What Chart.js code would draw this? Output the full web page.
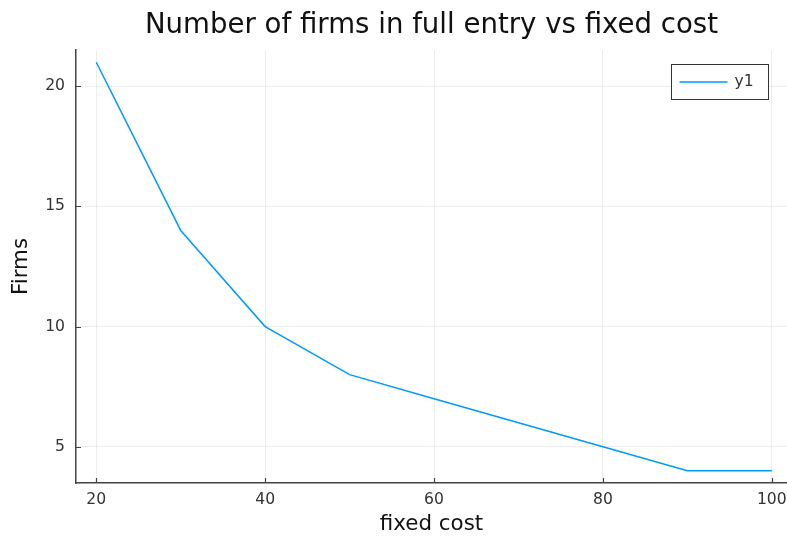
<!DOCTYPE html>
<html lang="en">
  <head>
    <meta charset="utf-8">
    <title>Number of firms in full entry vs fixed cost</title>
    <script src="https://cdn.jsdelivr.net/npm/chart.js"></script>
    <style>
      html, body { margin: 0; padding: 0; background: #fff; }
      #wrap { width: 787px; height: 537px; }
    </style>
  </head>
  <body>
    <div id="wrap"><canvas id="myChart" width="787" height="537"></canvas></div>
    <script>
      // data
      const fixedCost = [20, 30, 40, 50, 60, 70, 80, 90, 100];
      const firms = [21, 14, 10, 8, 7, 6, 5, 4, 4];
      const xTicks = [20, 40, 60, 80, 100];
      const yTicks = [5, 10, 15, 20];
      const chartTitle = 'Number of firms in full entry vs fixed cost';

      const axisColor = '#444';
      const textColor = '#333';

      // Plots.jl style: title centred over the plot area, ticks pointing in, legend box top right
      const plotsStyle = {
        id: 'plotsStyle',
        afterDraw(chart) {
          const ctx = chart.ctx;
          const area = chart.chartArea;
          const xs = chart.scales.x, ys = chart.scales.y;
          ctx.save();

          // title
          ctx.fillStyle = '#111';
          ctx.font = '27.6px "DejaVu Sans"';
          ctx.textAlign = 'center';
          ctx.textBaseline = 'alphabetic';
          ctx.fillText(chartTitle, (area.left + area.right) / 2, 33);

          // inward ticks
          ctx.strokeStyle = axisColor;
          ctx.lineWidth = 1.2;
          ctx.beginPath();
          xTicks.forEach(v => {
            const px = Math.round(xs.getPixelForValue(v)) + 0.5;
            ctx.moveTo(px, area.bottom);
            ctx.lineTo(px, area.bottom - 5);
          });
          yTicks.forEach(v => {
            const py = Math.round(ys.getPixelForValue(v)) + 0.5;
            ctx.moveTo(area.left, py);
            ctx.lineTo(area.left + 5, py);
          });
          ctx.stroke();

          // legend
          const bx = 671.5, by = 64.5, bw = 97, bh = 35;
          ctx.fillStyle = '#fff';
          ctx.fillRect(bx, by, bw, bh);
          ctx.strokeStyle = '#333';
          ctx.lineWidth = 1;
          ctx.strokeRect(bx, by, bw, bh);
          const ds = chart.data.datasets[0];
          ctx.strokeStyle = ds.borderColor;
          ctx.lineWidth = 1.5;
          ctx.beginPath();
          ctx.moveTo(bx + 8, by + bh / 2);
          ctx.lineTo(bx + 56, by + bh / 2);
          ctx.stroke();
          ctx.fillStyle = textColor;
          ctx.font = '15.6px "DejaVu Sans"';
          ctx.textAlign = 'left';
          ctx.textBaseline = 'middle';
          ctx.fillText(ds.label, bx + 63, by + bh / 2);
          ctx.restore();
        }
      };

      const ctx = document.getElementById('myChart').getContext('2d');
      const myChart = new Chart(ctx, {
        type: 'line',
        data: {
          datasets: [{
            label: 'y1',
            data: fixedCost.map((x, i) => ({ x: x, y: firms[i] })),
            borderColor: '#009AFA',
            borderWidth: 1.5,
            pointRadius: 0,
            fill: false,
            tension: 0
          }]
        },
        options: {
          responsive: false,
          animation: false,
          layout: { padding: { top: 50, left: 0, right: 0, bottom: 0 } },
          plugins: {
            legend: { display: false },
            tooltip: { enabled: false },
            title: { display: false }
          },
          scales: {
            x: {
              type: 'linear',
              min: 17.6,
              max: 101.8,
              afterBuildTicks: s => { s.ticks = xTicks.map(v => ({ value: v })); },
              afterFit: s => { s.height = 54; s.paddingRight = 0; s.paddingLeft = 0; },
              grid: { color: 'rgba(0,0,0,0.07)', drawTicks: false },
              border: { color: axisColor, width: 1.5 },
              ticks: {
                color: textColor,
                padding: 8,
                maxRotation: 0,
                font: { family: 'DejaVu Sans', size: 15.6 }
              },
              title: {
                display: true,
                text: 'fixed cost',
                color: '#111',
                font: { family: 'DejaVu Sans', size: 21.4 },
                padding: { top: 2, bottom: 0 }
              }
            },
            y: {
              min: 3.49,
              max: 21.51,
              afterBuildTicks: s => { s.ticks = yTicks.map(v => ({ value: v })); },
              afterFit: s => { s.width = 76; s.paddingTop = 0; s.paddingBottom = 0; },
              grid: { color: 'rgba(0,0,0,0.07)', drawTicks: false },
              border: { color: axisColor, width: 1.5 },
              ticks: {
                color: textColor,
                padding: 11,
                font: { family: 'DejaVu Sans', size: 15.6 }
              },
              title: {
                display: true,
                text: 'Firms',
                color: '#111',
                font: { family: 'DejaVu Sans', size: 21.4 },
                padding: { top: 9, bottom: 0 }
              }
            }
          }
        },
        plugins: [plotsStyle]
      });
    </script>
  </body>
</html>
